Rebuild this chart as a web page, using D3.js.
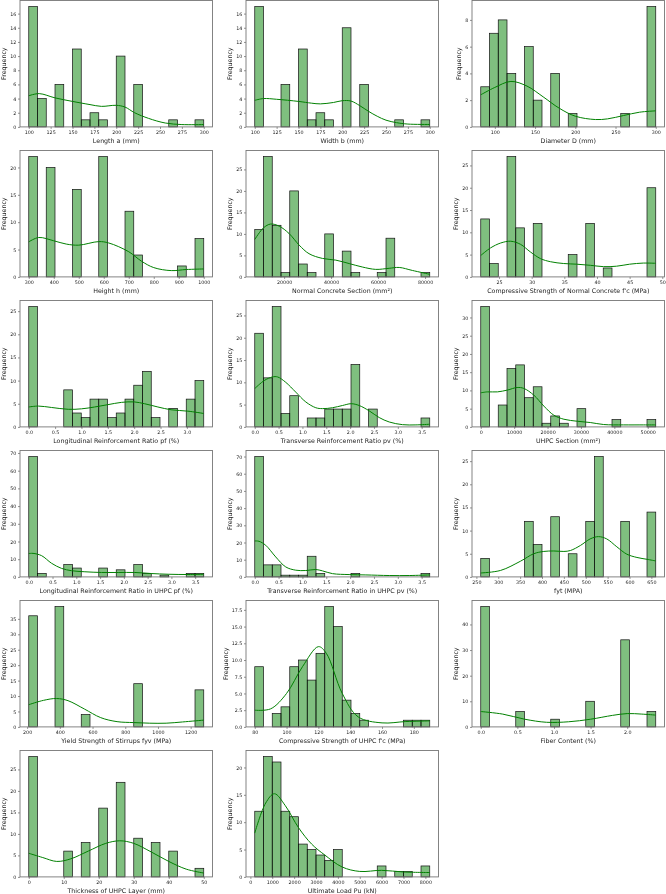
<!DOCTYPE html>
<html lang="en">
<head>
<meta charset="UTF-8">
<title>Feature distributions</title>
<script src="https://cdn.jsdelivr.net/npm/d3@7"></script>
<style>
  body { margin: 0; background: #fff; }
  svg { display: block; font-family: "DejaVu Sans", sans-serif; will-change: transform; }
</style>
</head>
<body>
<div id="chart"></div>
<script>
// every panel: 20 equal bins between [min, max], counts per bin, kde

const lengthRange = [100, 300];
const lengthCounts = [17, 4, 0, 6, 0, 11, 1, 2, 1, 0, 10, 0, 6, 0, 0, 0, 1, 0, 0, 1];
const lengthKde = [[100, 4.4], [112, 4.7], [130, 4.1], [150, 3.6], [170, 3.15], [183, 2.9], [200, 3.05], [210, 2.8], [221, 2.0], [237, 1.2], [256, 0.55], [275, 0.33], [300, 0.33]];
const lengthTicks = ["100", "125", "150", "175", "200", "225", "250", "275", "300"];
const lengthYTicks = ["0", "2", "4", "6", "8", "10", "12", "14", "16"];

const widthRange = [100, 300];
const widthCounts = [17, 0, 0, 6, 0, 11, 1, 2, 1, 0, 14, 0, 6, 0, 0, 0, 1, 0, 0, 1];
const widthKde = [[100, 3.75], [110, 4.0], [125, 3.9], [150, 3.6], [165, 3.35], [175, 3.25], [190, 3.45], [200, 3.7], [210, 3.65], [220, 3.0], [230, 2.2], [240, 1.5], [250, 0.95], [262, 0.6], [275, 0.4], [300, 0.35]];
const widthTicks = ["100", "125", "150", "175", "200", "225", "250", "275", "300"];
const widthYTicks = ["0", "2", "4", "6", "8", "10", "12", "14", "16"];

const diameterRange = [82.5, 300];
const diameterCounts = [3, 7, 8, 4, 0, 6, 2, 0, 4, 0, 1, 0, 0, 0, 0, 0, 1, 0, 0, 9];
const diameterKde = [[82.5, 2.4], [100, 2.95], [120, 3.4], [140, 3.05], [160, 2.25], [180, 1.4], [200, 0.8], [225, 0.55], [240, 0.6], [260, 0.85], [280, 1.1], [300, 1.2]];
const diameterTicks = ["100", "150", "200", "250", "300"];
const diameterYTicks = ["0", "2", "4", "6", "8"];

const heightRange = [300, 1000];
const heightCounts = [22, 0, 20, 0, 0, 16, 0, 0, 22, 0, 0, 12, 4, 0, 0, 0, 0, 2, 0, 7];
const heightKde = [[300, 6.4], [340, 7.2], [400, 6.6], [450, 6.0], [500, 5.8], [580, 6.45], [620, 6.2], [700, 4.6], [750, 2.9], [800, 1.7], [870, 1.15], [930, 1.35], [1000, 1.45]];
const heightTicks = ["300", "400", "500", "600", "700", "800", "900", "1000"];
const heightYTicks = ["0", "5", "10", "15", "20"];

const ncSectionRange = [7500, 82000];
const ncSectionCounts = [11, 28, 12, 1, 20, 3, 1, 0, 10, 0, 6, 1, 0, 0, 1, 9, 0, 0, 0, 1];
const ncSectionKde = [[7500, 8.7], [11200, 11.4], [14300, 12.3], [17900, 11.8], [22100, 10.1], [26400, 7.4], [30600, 5.4], [36300, 4.3], [42000, 3.9], [47700, 3.1], [53300, 2.3], [59000, 1.75], [64700, 2.0], [69000, 2.2], [74600, 1.5], [82000, 0.6]];
const ncSectionTicks = ["20000", "40000", "60000", "80000"];
const ncSectionYTicks = ["0", "5", "10", "15", "20", "25"];

const fcRange = [22.2, 49];
const fcCounts = [13, 3, 0, 27, 11, 0, 12, 0, 0, 0, 5, 0, 12, 0, 2, 0, 0, 0, 0, 20];
const fcKde = [[22.2, 4.8], [23.7, 6.5], [25.25, 7.6], [26.8, 8.0], [28.3, 7.3], [29.8, 5.6], [31.35, 4.1], [32.9, 3.4], [34.9, 3.0], [36.9, 2.85], [39, 2.6], [41, 2.3], [43, 2.4], [45, 2.85], [47.1, 3.1], [49, 3.05]];
const fcTicks = ["25", "30", "35", "40", "45", "50"];
const fcYTicks = ["0", "5", "10", "15", "20", "25"];

const pfRange = [0, 3.32];
const pfCounts = [26, 0, 0, 0, 8, 3, 2, 6, 6, 2, 3, 6, 9, 12, 2, 0, 4, 0, 6, 10];
const pfKde = [[0, 4.3], [0.18, 4.5], [0.43, 4.2], [0.75, 3.8], [1.0, 3.9], [1.25, 4.3], [1.5, 4.8], [1.76, 5.3], [2.0, 5.4], [2.2, 5.0], [2.45, 4.3], [2.7, 3.7], [3.02, 3.4], [3.32, 2.9]];
const pfTicks = ["0.0", "0.5", "1.0", "1.5", "2.0", "2.5", "3.0"];
const pfYTicks = ["0", "5", "10", "15", "20", "25"];

const pvRange = [0, 3.67];
const pvCounts = [21, 11, 27, 3, 7, 0, 2, 2, 4, 4, 4, 14, 0, 4, 0, 0, 0, 0, 0, 2];
const pvKde = [[0, 8.6], [0.2, 10.4], [0.37, 11.2], [0.48, 11.2], [0.65, 10.0], [0.86, 7.8], [1.07, 5.6], [1.28, 4.3], [1.42, 4.1], [1.63, 4.3], [1.84, 4.8], [2.02, 5.2], [2.19, 4.8], [2.4, 3.6], [2.61, 2.1], [2.82, 1.1], [3.1, 0.5], [3.38, 0.45], [3.67, 0.6]];
const pvTicks = ["0.0", "0.5", "1.0", "1.5", "2.0", "2.5", "3.0", "3.5"];
const pvYTicks = ["0", "5", "10", "15", "20", "25"];

const uhpcSectionRange = [0, 52400];
const uhpcSectionCounts = [33, 0, 6, 16, 17, 8, 11, 1, 3, 1, 0, 5, 0, 0, 0, 2, 0, 0, 0, 2];
const uhpcSectionKde = [[0, 9.35], [2000, 9.6], [5000, 9.6], [8000, 10.1], [10900, 10.8], [12900, 10.55], [15900, 8.7], [18900, 5.7], [21900, 3.2], [24900, 2.1], [28900, 1.55], [32800, 1.2], [36800, 0.65], [42800, 0.55], [48800, 0.55], [52400, 0.55]];
const uhpcSectionTicks = ["0", "10000", "20000", "30000", "40000", "50000"];
const uhpcSectionYTicks = ["0", "5", "10", "15", "20", "25", "30"];

const pfUhpcRange = [0, 3.68];
const pfUhpcCounts = [68, 2, 0, 0, 7, 5, 0, 0, 5, 0, 4, 0, 7, 2, 0, 1, 0, 0, 2, 2];
const pfUhpcKde = [[0, 13.2], [0.09, 13.3], [0.27, 12.0], [0.48, 7.7], [0.69, 4.8], [0.9, 3.5], [1.18, 2.9], [1.53, 2.5], [1.88, 2.5], [2.23, 2.5], [2.58, 1.9], [2.93, 1.5], [3.35, 1.35], [3.68, 1.5]];
const pfUhpcTicks = ["0.0", "0.5", "1.0", "1.5", "2.0", "2.5", "3.0", "3.5"];
const pfUhpcYTicks = ["0", "10", "20", "30", "40", "50", "60", "70"];

const pvUhpcRange = [0, 3.67];
const pvUhpcCounts = [70, 7, 7, 1, 1, 1, 12, 2, 0, 0, 0, 2, 0, 0, 0, 0, 0, 0, 0, 2];
const pvUhpcKde = [[0, 20.9], [0.09, 20.7], [0.23, 18.4], [0.44, 11.6], [0.65, 5.8], [0.86, 3.9], [1.07, 3.7], [1.28, 4.3], [1.42, 3.5], [1.63, 1.9], [1.98, 1.35], [2.33, 1.15], [2.82, 0.8], [3.24, 0.8], [3.67, 1.15]];
const pvUhpcTicks = ["0.0", "0.5", "1.0", "1.5", "2.0", "2.5", "3.0", "3.5"];
const pvUhpcYTicks = ["0", "10", "20", "30", "40", "50", "60", "70"];

const fytRange = [260, 660];
const fytCounts = [4, 0, 0, 0, 0, 12, 7, 0, 13, 0, 5, 0, 12, 26, 0, 0, 12, 0, 0, 14];
const fytKde = [[260, 0.85], [305.5, 1.4], [351, 3.4], [381, 5.0], [404, 5.5], [427, 5.6], [450, 5.5], [465, 5.7], [488, 6.8], [510, 8.2], [529, 8.7], [548, 8.2], [571, 6.5], [594, 4.9], [617, 4.2], [640, 3.8], [660, 3.45]];
const fytTicks = ["250", "300", "350", "400", "450", "500", "550", "600", "650"];
const fytYTicks = ["0", "5", "10", "15", "20", "25"];

const fyvRange = [210, 1280];
const fyvCounts = [36, 0, 0, 39, 0, 0, 4, 0, 0, 0, 0, 0, 14, 0, 0, 0, 0, 0, 0, 12];
const fyvKde = [[210, 7.2], [300, 8.6], [380, 9.2], [450, 8.5], [550, 5.8], [650, 3.0], [750, 1.7], [850, 1.4], [950, 1.2], [1050, 1.2], [1150, 1.6], [1280, 2.2]];
const fyvTicks = ["200", "400", "600", "800", "1000", "1200"];
const fyvYTicks = ["0", "5", "10", "15", "20", "25", "30", "35"];

const fcUhpcRange = [80, 190];
const fcUhpcCounts = [9, 0, 2, 3, 9, 10, 7, 11, 18, 15, 4, 2, 1, 0, 0, 0, 0, 1, 1, 1];
const fcUhpcKde = [[80, 2.5], [90, 2.7], [100, 5.0], [110, 9.0], [120, 12.0], [125, 11.0], [135, 5.0], [145, 1.5], [160, 0.6], [175, 0.8], [190, 0.9]];
const fcUhpcTicks = ["80", "100", "120", "140", "160", "180"];
const fcUhpcYTicks = ["0.0", "2.5", "5.0", "7.5", "10.0", "12.5", "15.0", "17.5"];

const fiberRange = [0, 2.39];
const fiberCounts = [47, 0, 0, 0, 6, 0, 0, 0, 3, 0, 0, 0, 10, 0, 0, 0, 34, 0, 0, 6];
const fiberKde = [[0, 6.0], [0.3, 5.0], [0.6, 3.0], [0.9, 1.8], [1.2, 2.0], [1.5, 3.0], [1.8, 4.5], [2.0, 5.2], [2.2, 5.0], [2.39, 4.6]];
const fiberTicks = ["0.0", "0.5", "1.0", "1.5", "2.0"];
const fiberYTicks = ["0", "10", "20", "30", "40"];

const thicknessRange = [0, 50];
const thicknessCounts = [28, 0, 0, 0, 6, 0, 8, 0, 16, 0, 22, 0, 9, 0, 8, 0, 6, 0, 0, 2];
const thicknessKde = [[0, 5.5], [4, 4.5], [8, 3.6], [12, 4.2], [17, 6.0], [22, 7.8], [26, 8.4], [30, 7.8], [35, 5.8], [40, 3.6], [45, 1.8], [50, 0.9]];
const thicknessTicks = ["0", "10", "20", "30", "40", "50"];
const thicknessYTicks = ["0", "5", "10", "15", "20", "25"];

const loadRange = [200, 8200];
const loadCounts = [12, 22, 21, 12, 11, 6, 5, 4, 3, 5, 0, 0, 0, 0, 2, 0, 1, 1, 0, 2];
const loadKde = [[200, 8.0], [700, 13.5], [1100, 15.2], [1600, 13.0], [2200, 9.0], [2800, 6.0], [3400, 4.0], [4200, 1.8], [5000, 1.0], [6000, 1.2], [7000, 0.9], [8200, 0.8]];
const loadTicks = ["0", "1000", "2000", "3000", "4000", "5000", "6000", "7000", "8000"];
const loadYTicks = ["0", "5", "10", "15", "20"];

const xTitles = [
  "Length a (mm)", "Width b (mm)", "Diameter D (mm)",
  "Height h (mm)", "Normal Concrete Section (mm\u00b2)", "Compressive Strength of Normal Concrete f'c (MPa)",
  "Longitudinal Reinforcement Ratio pf (%)", "Transverse Reinforcement Ratio pv (%)", "UHPC Section (mm\u00b2)",
  "Longitudinal Reinforcement Ratio in UHPC pf (%)", "Transverse Reinforcement Ratio in UHPC pv (%)", "fyt (MPA)",
  "Yield Strength of Stirrups fyv (MPa)", "Compressive Strength of UHPC f'c (MPa)", "Fiber Content (%)",
  "Thickness of UHPC Layer (mm)", "Ultimate Load Pu (kN)"
];

const panels = [
  [lengthRange, lengthCounts, lengthKde, lengthTicks, lengthYTicks],
  [widthRange, widthCounts, widthKde, widthTicks, widthYTicks],
  [diameterRange, diameterCounts, diameterKde, diameterTicks, diameterYTicks],
  [heightRange, heightCounts, heightKde, heightTicks, heightYTicks],
  [ncSectionRange, ncSectionCounts, ncSectionKde, ncSectionTicks, ncSectionYTicks],
  [fcRange, fcCounts, fcKde, fcTicks, fcYTicks],
  [pfRange, pfCounts, pfKde, pfTicks, pfYTicks],
  [pvRange, pvCounts, pvKde, pvTicks, pvYTicks],
  [uhpcSectionRange, uhpcSectionCounts, uhpcSectionKde, uhpcSectionTicks, uhpcSectionYTicks],
  [pfUhpcRange, pfUhpcCounts, pfUhpcKde, pfUhpcTicks, pfUhpcYTicks],
  [pvUhpcRange, pvUhpcCounts, pvUhpcKde, pvUhpcTicks, pvUhpcYTicks],
  [fytRange, fytCounts, fytKde, fytTicks, fytYTicks],
  [fyvRange, fyvCounts, fyvKde, fyvTicks, fyvYTicks],
  [fcUhpcRange, fcUhpcCounts, fcUhpcKde, fcUhpcTicks, fcUhpcYTicks],
  [fiberRange, fiberCounts, fiberKde, fiberTicks, fiberYTicks],
  [thicknessRange, thicknessCounts, thicknessKde, thicknessTicks, thicknessYTicks],
  [loadRange, loadCounts, loadKde, loadTicks, loadYTicks]
];

// layout of the 6 x 3 grid
const W = 666, H = 894;
const colLeft = [20, 246, 472];
const axW = 192.5, axH = 126.4, rowStep = 150, top0 = 0.5;

const svg = d3.select("#chart").append("svg")
  .attr("width", W).attr("height", H);

panels.forEach(function (p, i) {
  const [range, counts, kde, xt, yt] = p;
  const col = i % 3, row = Math.floor(i / 3);
  const g = svg.append("g")
    .attr("transform", `translate(${colLeft[col]},${top0 + row * rowStep})`);

  const span = range[1] - range[0];
  const x = d3.scaleLinear()
    .domain([range[0] - 0.05 * span, range[1] + 0.05 * span])
    .range([0, axW]);
  const y = d3.scaleLinear()
    .domain([0, d3.max(counts) * 1.05])
    .range([axH, 0]);

  const step = span / counts.length;
  const bins = counts.map((c, k) => ({ x0: range[0] + k * step, x1: range[0] + (k + 1) * step, c: c }))
    .filter(d => d.c > 0);

  // bars
  g.selectAll(".bar")
    .data(bins)
    .enter().append("rect")
    .attr("class", "bar")
    .attr("x", d => x(d.x0))
    .attr("width", d => x(d.x1) - x(d.x0))
    .attr("y", d => y(d.c))
    .attr("height", d => y(0) - y(d.c))
    .attr("fill", "rgba(0,128,0,0.5)")
    .attr("stroke", "#111")
    .attr("stroke-width", 0.7);

  // kde line
  const line = d3.line()
    .x(d => x(d[0]))
    .y(d => y(d[1]))
    .curve(d3.curveCatmullRom.alpha(0.5));
  g.append("path")
    .datum(kde)
    .attr("d", line)
    .attr("fill", "none")
    .attr("stroke", "green")
    .attr("stroke-width", 1);

  // axes
  const xAxis = g.append("g")
    .attr("transform", `translate(0,${axH})`)
    .call(d3.axisBottom(x).tickValues(xt.map(Number)).tickFormat((d, k) => xt[k])
      .tickSize(2).tickPadding(1.6));
  const yAxis = g.append("g")
    .call(d3.axisLeft(y).tickValues(yt.map(Number)).tickFormat((d, k) => yt[k])
      .tickSize(2).tickPadding(1.6));
  [xAxis, yAxis].forEach(a => {
    a.select(".domain").remove();
    a.selectAll("line").attr("stroke", "#444").attr("stroke-width", 0.6);
    a.selectAll("text").attr("fill", "#222").style("font-size", "4.8px")
      .style("font-family", "'DejaVu Sans', sans-serif");
  });

  // frame
  g.append("rect")
    .attr("width", axW).attr("height", axH)
    .attr("fill", "none")
    .attr("stroke", "#777")
    .attr("stroke-width", 0.9);

  // axis titles
  g.append("text")
    .attr("x", axW / 2)
    .attr("y", axH + 16.3)
    .attr("text-anchor", "middle")
    .style("font-size", "6.3px")
    .attr("fill", "#222")
    .text(xTitles[i]);

  const bx = yAxis.node().getBBox().x;
  g.append("text")
    .attr("transform", `translate(${bx - 4},${axH / 2}) rotate(-90)`)
    .attr("text-anchor", "middle")
    .style("font-size", "6.3px")
    .attr("fill", "#222")
    .text("Frequency");
});
</script>
</body>
</html>
